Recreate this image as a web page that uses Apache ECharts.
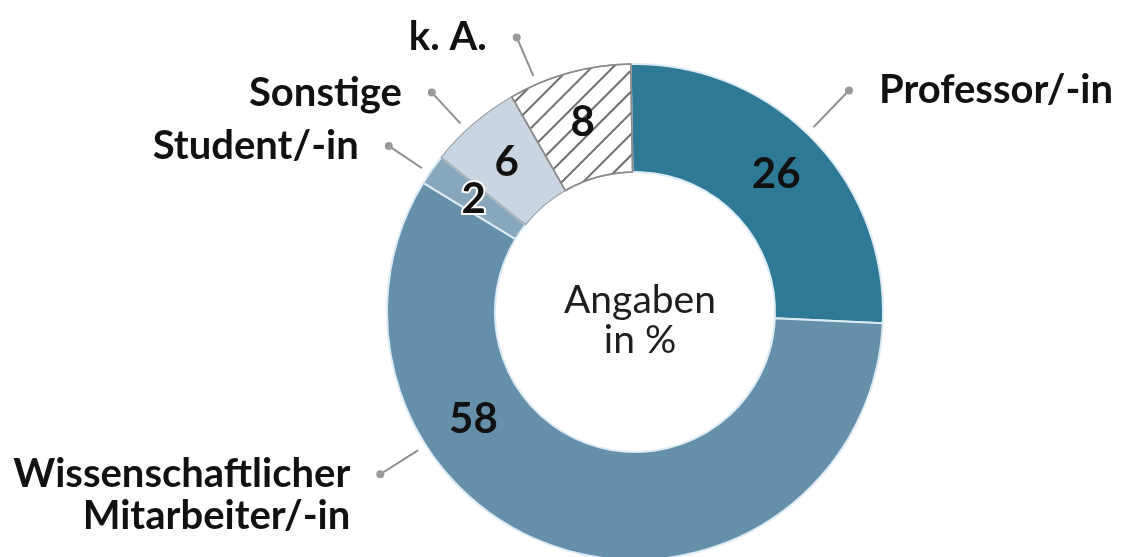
<!DOCTYPE html>
<html>
<head>
<meta charset="utf-8">
<script src="https://cdn.jsdelivr.net/npm/echarts@6/dist/echarts.min.js"></script>
<style>
  html, body { margin: 0; padding: 0; background: #fff; }
  #chart { width: 1128px; height: 557px; }
</style>
</head>
<body>
<div id="chart"></div>
<script>
(function () {

  // data
  var categories = ['Professor/-in', 'Wissenschaftlicher\nMitarbeiter/-in', 'Student/-in', 'Sonstige', 'k. A.'];
  var values = [26, 58, 2, 6, 8];
  var colors = ['#2e7996', '#6690aa', '#88a7bd', '#c9d5e0', '#ffffff'];

  // layout of the ring and the callouts (degrees clockwise from top)
  var CX = 635, CY = 312, R0 = 140, R1 = 248;
  var calloutAngle = [44, 237.5, -56, -42.8, -23.3];
  var calloutEnd = [308, 302, 297, 299, 299];
  var insideAngle = { 1: 236.4 };

  var font = 'Lato, "Open Sans", sans-serif';

  function pt(deg, r) {
    var a = deg * Math.PI / 180;
    return [CX + r * Math.sin(a), CY - r * Math.cos(a)];
  }

  function isRight(i) {
    return Math.sin(calloutAngle[i] * Math.PI / 180) > 0;
  }

  function itemStyleFor(i) {
    if (i === 4) {
      // k. A. : white with diagonal hatching
      return {
        color: colors[i],
        borderColor: '#8c8c8c',
        borderWidth: 1.5,
        decal: {
          symbol: 'rect',
          symbolSize: 1,
          dashArrayX: [1, 0],
          dashArrayY: [1.5, 13],
          rotation: -Math.PI / 4,
          color: '#6d6d6d'
        }
      };
    }
    if (i === 3) {
      return { color: colors[i], borderColor: '#9aa3ab', borderWidth: 1.2 };
    }
    return { color: colors[i], borderColor: '#dcebf3', borderWidth: 2 };
  }

  var ringData = values.map(function (v, i) {
    var item = { name: categories[i], value: v, itemStyle: itemStyleFor(i) };
    if (i === 2) item.label = { textBorderColor: '#fff', textBorderWidth: 4 };
    return item;
  });

  var calloutData = values.map(function (v, i) {
    var right = isRight(i);
    var text = categories[i].split('\n').map(function (s, k) {
      if (right) return '{d| }{g| }{t|' + s + '}';
      return '{t|' + s + '}{g| }' + (k === 0 ? '{d| }' : '{h| }');
    }).join('\n');
    return { name: categories[i], value: v, label: { formatter: text } };
  });

  var myChart = echarts.init(document.getElementById('chart'));
  var option = {
    backgroundColor: '#ffffff',
    animation: false,
    title: {
      text: 'Angaben\nin %',
      left: CX,
      top: 315,
      textAlign: 'center',
      textVerticalAlign: 'middle',
      textStyle: {
        fontFamily: font,
        fontSize: 39,
        fontWeight: 'normal',
        lineHeight: 40,
        color: '#1e1e1e'
      }
    },
    series: [
      {
        name: 'ring',
        type: 'pie',
        center: [CX, CY],
        radius: [R0, R1],
        startAngle: 91,
        clockwise: true,
        silent: true,
        data: ringData,
        label: {
          show: true,
          position: 'inside',
          formatter: '{c}',
          fontFamily: font,
          fontSize: 42,
          fontWeight: 'bold',
          color: '#111'
        },
        labelLine: { show: false },
        labelLayout: function (p) {
          var deg = insideAngle[p.dataIndex];
          if (deg === undefined) return {};
          var q = pt(deg, (R0 + R1) / 2);
          return { x: q[0], y: q[1], align: 'center', verticalAlign: 'middle' };
        }
      },
      {
        name: 'callouts',
        type: 'pie',
        center: [CX, CY],
        radius: [R0, R1],
        startAngle: 91,
        clockwise: true,
        silent: true,
        avoidLabelOverlap: false,
        itemStyle: { color: 'transparent', borderWidth: 0 },
        data: calloutData,
        label: {
          show: true,
          position: 'outside',
          rich: {
            t: { fontFamily: font, fontSize: 40, fontWeight: 'bold', color: '#111', lineHeight: 42, verticalAlign: 'middle' },
            d: { width: 8, height: 8, borderRadius: 4, backgroundColor: '#999', verticalAlign: 'middle' },
            h: { width: 8, height: 8, verticalAlign: 'middle' },
            g: { width: 26, height: 8, verticalAlign: 'middle' }
          }
        },
        labelLine: {
          show: true,
          lineStyle: { color: '#8f8f8f', width: 2 }
        },
        labelLayout: function (p) {
          var i = p.dataIndex;
          var s = pt(calloutAngle[i], 257);
          var e = pt(calloutAngle[i], calloutEnd[i]);
          var right = isRight(i);
          return {
            x: right ? e[0] - 4 : e[0] + 4,
            y: e[1] - 21,
            align: right ? 'left' : 'right',
            verticalAlign: 'top',
            labelLinePoints: [s, e, e]
          };
        }
      }
    ]
  };

  myChart.setOption(option);
})();
</script>
</body>
</html>
